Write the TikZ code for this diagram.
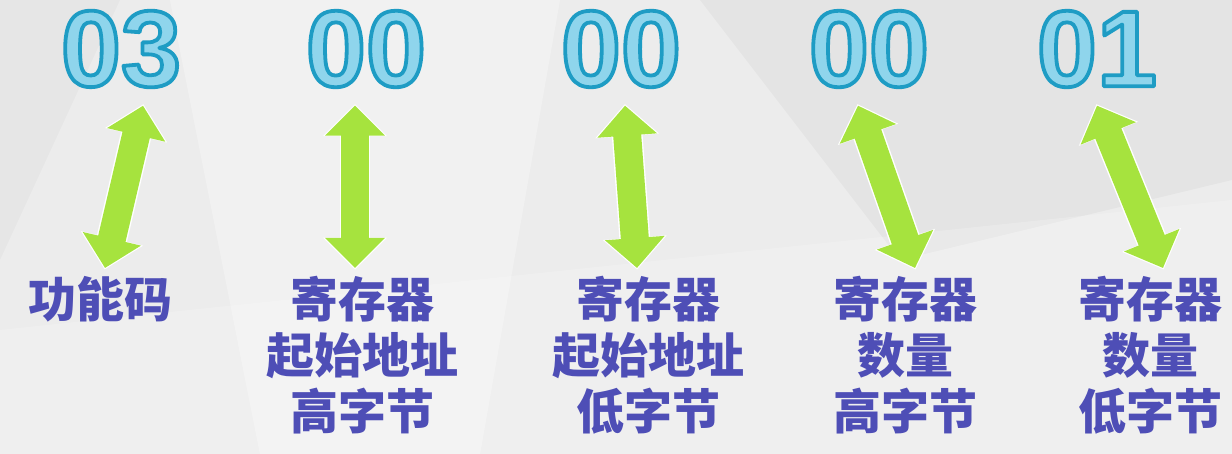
\documentclass[tikz,border=0pt]{standalone}
\usepackage{fontspec}
\usepackage{tikz}
\usetikzlibrary{arrows.meta,calc,positioning}
\newfontfamily\cjk{Noto Sans CJK SC}
\newfontfamily\numfont{Liberation Sans}
\definecolor{Sky}{HTML}{8FD5EC}
\definecolor{SkyEdge}{HTML}{1E9CC4}
\definecolor{Lime}{HTML}{A6E33E}
\definecolor{Indigo}{HTML}{4E4EB6}
\definecolor{Paper}{HTML}{ECECEC}

% outlined hex byte: fill + stroke text render mode
\newcommand\bytetext[1]{%
  {\color{Sky}\special{pdf:literal direct 0.118 0.612 0.769 RG 1.9 w 1 j 2 Tr}#1%
   \special{pdf:literal direct 0 Tr}}}

\begin{document}
\begin{tikzpicture}[x=0.5pt,y=-0.5pt,
    byte/.style={inner sep=0pt,font=\numfont\bfseries\fontsize{54}{54}\selectfont},
    field/.style={inner sep=0pt,anchor=north,align=center,text=Indigo,
      font=\cjk\bfseries\fontsize{24}{28}\selectfont},
    bothway/.style={Lime,line width=14pt,
      {Triangle[width=29pt,length=15pt]}-{Triangle[width=29pt,length=15pt]},
      preaction={draw=white,line width=15.4pt,shorten <=-.8pt,shorten >=-.8pt,
        {Triangle[width=31pt,length=16pt]}-{Triangle[width=31pt,length=16pt]}}}]
  % background facets
  \fill[Paper] (0,0) rectangle (1232,454);
  \fill[white,opacity=.3] (170,0) -- (560,0) -- (480,454) -- (260,454) -- cycle;
  \fill[black,opacity=.025] (0,0) -- (120,0) -- (0,260) -- cycle;
  \fill[black,opacity=.03] (700,0) -- (1232,0) -- (1232,180) -- (900,260) -- cycle;
  \fill[white,opacity=.2] (0,330) -- (1232,200) -- (1232,454) -- (0,454) -- cycle;
  \useasboundingbox (0,0) rectangle (1232,454);

  \node[byte] (d1) at (121,49) {\bytetext{03}};
  \node[byte] (d2) at (366,49) {\bytetext{00}};
  \node[byte] (d3) at (621,49) {\bytetext{00}};
  \node[byte] (d4) at (869,49) {\bytetext{00}};
  \node[byte] (d5) at (1097,49) {\bytetext{01}};

  \node[field] (l1) at (100,276) {功能码};
  \node[field] (l2) at (362,276) {寄存器\\起始地址\\高字节};
  \node[field] (l3) at (648,276) {寄存器\\起始地址\\低字节};
  \node[field] (l4) at (905,276) {寄存器\\数量\\高字节};
  \node[field] (l5) at (1150,276) {寄存器\\数量\\低字节};

  \foreach \i/\a/\b in {1/22/5,2/-11/-7,3/4/-11,4/-11/10,5/0/13}
    \draw[bothway] ($(d\i.south)+(\a,18)$) -- ($(l\i.north)+(\b,-8)$);
\end{tikzpicture}
\end{document}
